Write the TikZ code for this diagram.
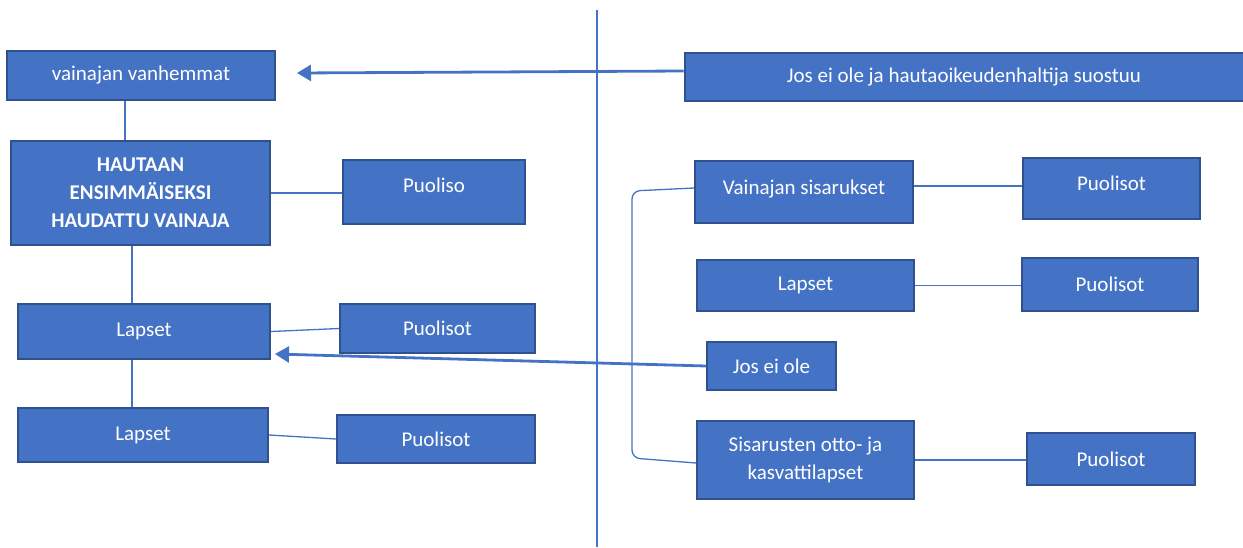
\documentclass[tikz,border=0pt]{standalone}
\usepackage{fontspec}
\setmainfont{Carlito}
\usepackage{tikz}
\usetikzlibrary{arrows.meta}
\definecolor{boxfill}{HTML}{4472C4}
\definecolor{boxline}{HTML}{2F528F}
\definecolor{linkcol}{HTML}{4472C4}

\begin{document}
\begin{tikzpicture}[x=1pt,y=-1pt,
  box/.style={draw=boxline,line width=2pt,fill=boxfill,text=white,inner sep=0pt,align=center,
    font=\fontsize{21}{28}\selectfont},
  link/.style={draw=linkcol,line width=1.3pt},
  arr/.style={draw=linkcol,line width=2.8pt,-{Triangle[length=14pt,width=16pt]}}]
\useasboundingbox (0,0) rectangle (1243,547);
% divider
\draw[link] (597,10) -- (597,547);
% left side
\node[box,minimum width=268pt,minimum height=49pt] (parents) at (141,75.5) {vainajan vanhemmat};
\node[box,minimum width=259pt,minimum height=104pt,font=\fontsize{21}{28}\selectfont\bfseries] (dead) at (140.5,193) {HAUTAAN\\ENSIMMÄISEKSI\\HAUDATTU VAINAJA};
\node[box,minimum width=182pt,minimum height=64pt] (spouse) at (434,192) {\raisebox{13pt}{Puoliso}};
\node[box,minimum width=252pt,minimum height=55pt] (kids1) at (144,331.5) {Lapset};
\node[box,minimum width=195pt,minimum height=49pt] (kspouse1) at (437.5,328.5) {Puolisot};
\node[box,minimum width=250pt,minimum height=54pt] (kids2) at (143,435) {Lapset};
\node[box,minimum width=198pt,minimum height=48pt] (kspouse2) at (436,439) {Puolisot};
% right side
\node[box,minimum width=559pt,minimum height=48pt] (ifnot1) at (964,77) {Jos ei ole ja hautaoikeudenhaltija suostuu};
\node[box,minimum width=218pt,minimum height=62pt] (sibs) at (804,192) {\raisebox{10pt}{Vainajan sisarukset}};
\node[box,minimum width=177pt,minimum height=61pt] (sspouse1) at (1111.5,188.5) {\raisebox{10pt}{Puolisot}};
\node[box,minimum width=217pt,minimum height=51pt] (skids) at (805.5,285.5) {Lapset};
\node[box,minimum width=176pt,minimum height=53pt] (sspouse2) at (1110,284.5) {Puolisot};
\node[box,minimum width=129pt,minimum height=48pt] (ifnot2) at (771.5,366) {Jos ei ole};
\node[box,minimum width=217pt,minimum height=78pt] (fost) at (805.5,460) {Sisarusten otto- ja\\kasvattilapset};
\node[box,minimum width=168pt,minimum height=52pt] (sspouse3) at (1111,459) {Puolisot};
% connectors
\draw[link] (parents.south -| 125,0) -- (dead.north -| 125,0);
\draw[link] (dead.east) -- (spouse.west |- dead.east);
\draw[link] (dead.south -| 132,0) -- (kids1.north -| 132,0);
\draw[link] (kids1.east) -- (kspouse1.west);
\draw[link] (kids1.south -| 132,0) -- (kids2.north -| 132,0);
\draw[link] (kids2.east) -- (kspouse2.west);
\draw[link] (sibs.east |- 0,186) -- (sspouse1.west |- 0,186);
\draw[link] (skids.east) -- (sspouse2.west |- skids.east);
\draw[link] (fost.east) -- (sspouse3.west |- fost.east);
\draw[link,rounded corners=8pt] (sibs.west |- 0,188) -- (632,191) -- (632,458) -- (fost.west |- 0,463);
% arrows
\draw[arr] (ifnot1.west |- 0,71) -- (297,73);
\draw[arr] (ifnot2.west) -- (275,354);
\end{tikzpicture}
\end{document}
